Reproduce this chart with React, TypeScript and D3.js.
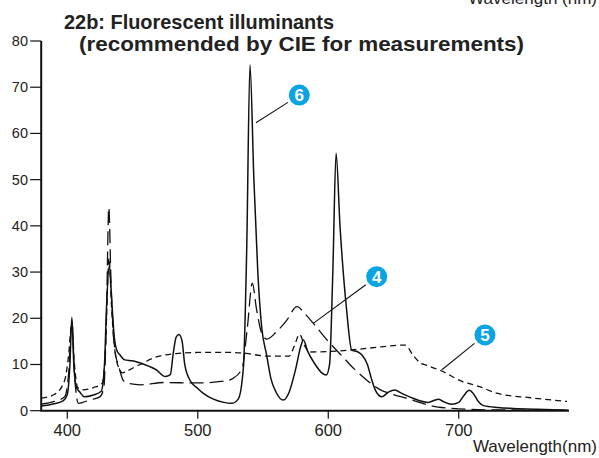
import React from "react";
import * as d3 from "d3";

const xTicks = [400, 500, 600, 700];
const yTicks = [0, 10, 20, 30, 40, 50, 60, 70, 80];
const titleLines = ["22b: Fluorescent illuminants", "(recommended by CIE for measurements)"];
const xAxisTitle = "Wavelength(nm)";

// Series 6 (solid)
const series6: [number, number][] = [
  [380, 1.0], [390, 1.5], [397, 2.2], [400, 3.5], [402, 10], [403.5, 20.2], [405, 10], [407, 5],
  [409.7, 4.0], [413, 3.0], [420, 3.4], [426, 4.2], [428.5, 10], [430, 22], [432.2, 31.5], [434, 24],
  [436, 16], [438, 13], [440, 12.2], [444, 11], [450, 10.8], [458, 10.1], [468.5, 8.8], [475, 7.4],
  [479, 7.8], [481, 12], [483.5, 16], [485.6, 16.5], [488, 15], [490, 10], [494, 6.6], [500, 4.8],
  [504, 3.8], [512, 2.5], [520, 1.8], [526, 1.6], [531, 2.5], [535, 9.5], [537.5, 35], [540, 74.8],
  [543, 50], [546, 30], [549, 18], [552.8, 12], [556, 7], [560, 4], [565.5, 2.3], [570, 4], [575, 9],
  [579, 14], [581, 15.3], [584, 13], [590, 10], [595, 8.2], [598.5, 7.7], [601, 10], [603.5, 30],
  [606, 55.7], [609, 40], [614, 22], [618, 13.1], [622, 12.8], [626, 12], [630, 10], [633, 7],
  [636, 4.5], [641, 3.0], [646, 4.0], [651, 4.5], [656, 3.8], [665, 2.7], [676.7, 1.8], [681, 2.2],
  [684.4, 2.5], [688, 2], [694.6, 1.4], [700, 1.8], [704, 3.3], [708, 4.4], [711, 3.8], [715, 2],
  [719, 1.1], [730, 0.7], [742, 0.5], [760, 0.3], [784, 0.1],
];

// Series 4 (long dash)
const series4: [number, number][] = [
  [380, 1.4], [390, 2], [398, 3], [401, 8], [403.5, 19.5], [405.5, 8], [408.5, 1.6], [412, 1.8],
  [417, 2.3], [425, 3.0], [428, 5], [430, 20], [431.8, 44], [433.5, 28], [436, 14], [440, 9],
  [443, 6.5], [447, 5.9], [456, 5.6], [474, 6.1], [499, 6.0], [520, 6.4], [527, 7.0], [534, 9.2],
  [538, 18], [541.8, 27.6], [545, 22], [549, 16.8], [553, 15.5], [560, 17], [568, 19.5], [576, 22.5],
  [582, 21], [588.6, 18.9], [600, 15], [610, 12], [620, 9], [630, 6.5], [640, 4.5], [650, 3.5],
  [660, 2.7], [670, 1.8], [680, 1.0], [690, 0.6], [700, 0.4], [720, 0.2], [784, 0.1],
];

// Series 5 (short dash)
const series5: [number, number][] = [
  [380, 2.7], [390, 3.5], [398, 6.6], [401, 12], [403.5, 19], [405.5, 10], [408, 5], [412, 4.5],
  [420, 5], [427, 6], [429, 12], [432, 33], [434, 22], [437, 12], [440, 9], [442, 8.2], [446, 8.6],
  [452, 9.5], [458, 10.3], [465, 11.3], [473.6, 12], [485, 12.4], [500, 12.6], [525, 12.6],
  [537, 12.4], [553, 11.8], [570, 11.8], [574, 14], [578, 16.5], [582, 14], [586, 12.7], [600, 12.8],
  [620, 13.2], [640, 13.8], [659, 14.2], [665, 12], [670.6, 10.3], [674.5, 9.9], [686, 8.7],
  [703, 6.3], [716, 5.2], [729, 3.8], [755, 2.8], [783, 2.0],
];

const markers = [
  { label: "6", at: [577.8, 68.3], to: [544.6, 62.3] },
  { label: "4", at: [637.1, 29.0], to: [588.5, 18.9] },
  { label: "5", at: [720.1, 16.4], to: [686.9, 8.8] },
];

const W = 599;
const H = 458;

export default function App() {
  const x = d3.scaleLinear().domain([380, 784.5]).range([41.2, 569]);
  const y = d3.scaleLinear().domain([0, 80]).range([410.7, 41]);
  const line = d3
    .line<[number, number]>()
    .x((d) => x(d[0]))
    .y((d) => y(d[1]))
    .curve(d3.curveMonotoneX);

  const font = "'Liberation Sans', Arial, Helvetica, sans-serif";
  const r = 10.5;

  return (
    <svg
      width={W}
      height={H}
      viewBox={`0 0 ${W} ${H}`}
      style={{ position: "absolute", left: 0, top: 0, display: "block", background: "#fff" }}
      fontFamily={font}
    >
      <text x={597} y={4} textAnchor="end" fontSize={17} fill="#222">Wavelength (nm)</text>
      <text x={64} y={29} fontWeight="bold" fontSize={21} fill="#222" textLength={270} lengthAdjust="spacingAndGlyphs">
        {titleLines[0]}
      </text>
      <text x={79} y={51} fontWeight="bold" fontSize={21} fill="#222" textLength={445} lengthAdjust="spacingAndGlyphs">
        {titleLines[1]}
      </text>

      {/* curves */}
      <path d={line(series5) || ""} fill="none" stroke="#111" strokeWidth={1.3} strokeDasharray="6,4" />
      <path d={line(series4) || ""} fill="none" stroke="#111" strokeWidth={1.3} strokeDasharray="14,6" />
      <path d={line(series6) || ""} fill="none" stroke="#111" strokeWidth={1.5} />

      {/* y axis */}
      <line x1={x(380)} x2={x(380)} y1={y(80)} y2={y(0)} stroke="#111" strokeWidth={2} />
      {yTicks.map((t) => (
        <g key={t}>
          <line x1={x(380) - 11} x2={x(380)} y1={y(t)} y2={y(t)} stroke="#111" strokeWidth={1.2} />
          <text x={28} y={y(t) + 5} textAnchor="end" fontSize={14.5} fill="#222">{t}</text>
        </g>
      ))}

      {/* x axis */}
      <line x1={x(380) - 1} x2={x(784.5)} y1={y(0)} y2={y(0)} stroke="#111" strokeWidth={2} />
      {xTicks.map((t) => (
        <g key={t}>
          <line x1={x(t)} x2={x(t)} y1={y(0)} y2={y(0) + 8} stroke="#111" strokeWidth={1.2} />
          <text x={x(t)} y={436} textAnchor="middle" fontSize={16.5} fill="#222">{t}</text>
        </g>
      ))}
      <text x={597} y={452} textAnchor="end" fontSize={17} fill="#222">{xAxisTitle}</text>

      {/* markers */}
      {markers.map((m) => {
        const cx = x(m.at[0]);
        const cy = y(m.at[1]);
        const ex = x(m.to[0]);
        const ey = y(m.to[1]);
        const dx = ex - cx;
        const dy = ey - cy;
        const len = Math.hypot(dx, dy);
        const sx = cx + (dx / len) * (r + 3);
        const sy = cy + (dy / len) * (r + 3);
        return (
          <g key={m.label}>
            <line x1={sx} y1={sy} x2={ex} y2={ey} stroke="#111" strokeWidth={1.1} />
            <circle cx={cx} cy={cy} r={r} fill="#0aa3e3" />
            <text x={cx} y={cy + 6} textAnchor="middle" fontSize={17} fontWeight="bold" fill="#fff">{m.label}</text>
          </g>
        );
      })}
    </svg>
  );
}
